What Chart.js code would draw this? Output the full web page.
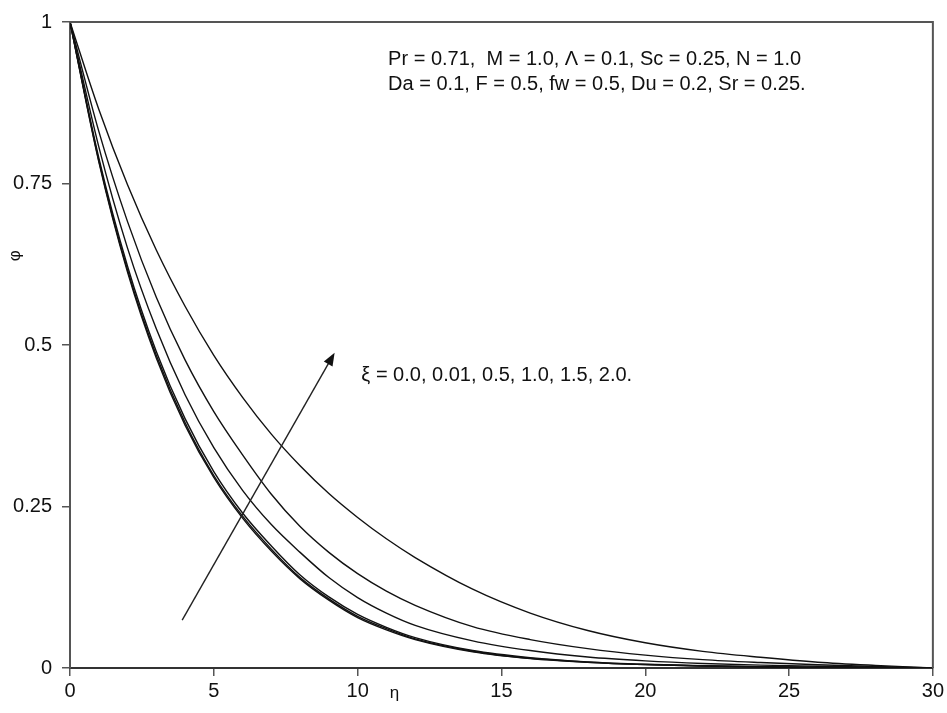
<!DOCTYPE html>
<html>
<head>
<meta charset="utf-8">
<script src="https://cdn.jsdelivr.net/npm/chart.js@4.4.0/dist/chart.umd.min.js"></script>
<style>
  html, body { margin: 0; padding: 0; background: #fff; }
  #wrap { width: 947px; height: 713px; }
</style>
</head>
<body>
<div id="wrap"><canvas id="phi-chart" width="947" height="713"></canvas></div>
<script>
// eta grid and concentration profiles
const eta = [0, 1, 2, 3, 4, 5, 6, 7, 8, 9, 10, 11, 12, 14, 16, 18, 20, 22, 24, 26, 28, 30];

const xiLabels = ['0.0', '0.01', '0.5', '1.0', '1.5', '2.0'];

const phi_xi0   = [1, 0.784, 0.613, 0.480, 0.376, 0.295, 0.232, 0.181, 0.138, 0.105, 0.078, 0.059, 0.044, 0.025, 0.0145, 0.0087, 0.0052, 0.0031, 0.0018, 0.001, 0.0005, 0];
const phi_xi001 = [1, 0.786, 0.616, 0.484, 0.380, 0.298, 0.235, 0.184, 0.140, 0.107, 0.080, 0.061, 0.045, 0.026, 0.015, 0.009, 0.0054, 0.0032, 0.0019, 0.001, 0.0005, 0];
const phi_xi05  = [1, 0.790, 0.622, 0.490, 0.386, 0.304, 0.240, 0.189, 0.144, 0.110, 0.083, 0.063, 0.047, 0.027, 0.016, 0.0095, 0.0057, 0.0034, 0.002, 0.0011, 0.0005, 0];
const phi_xi10  = [1, 0.807, 0.650, 0.525, 0.423, 0.341, 0.275, 0.222, 0.179, 0.140, 0.109, 0.085, 0.066, 0.042, 0.027, 0.017, 0.011, 0.007, 0.0045, 0.0028, 0.0012, 0];
const phi_xi15  = [1, 0.831, 0.691, 0.574, 0.477, 0.397, 0.330, 0.269, 0.219, 0.179, 0.146, 0.119, 0.097, 0.064, 0.044, 0.030, 0.020, 0.013, 0.0085, 0.005, 0.0023, 0];
const phi_xi20  = [1, 0.865, 0.748, 0.647, 0.560, 0.484, 0.419, 0.362, 0.313, 0.270, 0.233, 0.200, 0.171, 0.122, 0.085, 0.058, 0.039, 0.0257, 0.0166, 0.009, 0.004, 0];

const allPhi = [phi_xi0, phi_xi001, phi_xi05, phi_xi10, phi_xi15, phi_xi20];

const yTicks = [0, 0.25, 0.5, 0.75, 1];
const yTickLabels = ['0', '0.25', '0.5', '0.75', '1'];
const xTicks = [0, 5, 10, 15, 20, 25, 30];

const paramLine1 = 'Pr = 0.71,  M = 1.0, \u039B = 0.1, Sc = 0.25, N = 1.0';
const paramLine2 = 'Da = 0.1, F = 0.5, fw = 0.5, Du = 0.2, Sr = 0.25.';
const xiText = '\u03BE = 0.0, 0.01, 0.5, 1.0, 1.5, 2.0.';

// arrow in data units (tail, head)
const arrowFrom = [3.9, 0.074];
const arrowTo = [9.2, 0.488];

const FONT = '"Liberation Sans", Arial, sans-serif';

const datasets = allPhi.map(function (vals, i) {
  return {
    label: 'xi = ' + xiLabels[i],
    data: eta.map(function (e, j) { return { x: e, y: vals[j] }; }),
    borderColor: '#111',
    borderWidth: 1.4,
    pointRadius: 0,
    cubicInterpolationMode: 'monotone',
    fill: false
  };
});

const annotations = {
  id: 'annotations',
  afterDatasetsDraw(chart) {
    const ctx = chart.ctx;
    const xs = chart.scales.x, ys = chart.scales.y;
    const area = chart.chartArea;
    ctx.save();

    // plot box (top + right edges)
    ctx.strokeStyle = '#555';
    ctx.lineWidth = 2;
    ctx.beginPath();
    ctx.moveTo(area.left, area.top);
    ctx.lineTo(area.right, area.top);
    ctx.lineTo(area.right, area.bottom);
    ctx.stroke();

    // parameter text
    ctx.fillStyle = '#111';
    ctx.font = '20px ' + FONT;
    ctx.textBaseline = 'alphabetic';
    ctx.textAlign = 'left';
    ctx.fillText(paramLine1, xs.getPixelForValue(11.06), ys.getPixelForValue(0.934));
    ctx.fillText(paramLine2, xs.getPixelForValue(11.06), ys.getPixelForValue(0.894));

    // xi text
    ctx.fillText(xiText, xs.getPixelForValue(10.13), ys.getPixelForValue(0.444));

    // arrow
    const x1 = xs.getPixelForValue(arrowFrom[0]), y1 = ys.getPixelForValue(arrowFrom[1]);
    const x2 = xs.getPixelForValue(arrowTo[0]), y2 = ys.getPixelForValue(arrowTo[1]);
    const ang = Math.atan2(y2 - y1, x2 - x1);
    ctx.strokeStyle = '#222';
    ctx.lineWidth = 1.4;
    ctx.beginPath();
    ctx.moveTo(x1, y1);
    ctx.lineTo(x2 - 8 * Math.cos(ang), y2 - 8 * Math.sin(ang));
    ctx.stroke();
    ctx.fillStyle = '#111';
    ctx.beginPath();
    ctx.moveTo(x2, y2);
    ctx.lineTo(x2 - 13 * Math.cos(ang) + 5 * Math.sin(ang), y2 - 13 * Math.sin(ang) - 5 * Math.cos(ang));
    ctx.lineTo(x2 - 13 * Math.cos(ang) - 5 * Math.sin(ang), y2 - 13 * Math.sin(ang) + 5 * Math.cos(ang));
    ctx.closePath();
    ctx.fill();

    // axis titles
    ctx.fillStyle = '#111';
    ctx.font = '17px ' + FONT;
    ctx.textAlign = 'center';
    ctx.textBaseline = 'middle';
    ctx.fillText('\u03B7', xs.getPixelForValue(11.28), area.bottom + 25);

    ctx.translate(15, ys.getPixelForValue(0.638));
    ctx.rotate(-Math.PI / 2);
    ctx.font = '17px ' + FONT;
    ctx.fillText('\u03C6', 0, 0);
    ctx.restore();
  }
};

const chart = new Chart(document.getElementById('phi-chart'), {
  type: 'line',
  data: { datasets: datasets },
  options: {
    responsive: false,
    animation: false,
    layout: { padding: { left: 0, top: 20, right: 13, bottom: 0 } },
    plugins: {
      legend: { display: false },
      tooltip: { enabled: false }
    },
    scales: {
      x: {
        type: 'linear',
        min: 0,
        max: 30,
        afterBuildTicks: function (scale) { scale.ticks = xTicks.map(function (v) { return { value: v }; }); },
        afterFit: function (scale) { scale.height = 45; },
        grid: { drawOnChartArea: false, drawTicks: true, tickLength: 8, color: '#555', lineWidth: 1.5 },
        border: { color: '#333', width: 2 },
        ticks: {
          color: '#111', font: { family: FONT, size: 20 }, padding: 3, maxRotation: 0,
          callback: function (v) { return String(v); }
        }
      },
      y: {
        type: 'linear',
        min: 0,
        max: 1,
        afterBuildTicks: function (scale) { scale.ticks = yTicks.map(function (v) { return { value: v }; }); },
        afterFit: function (scale) { scale.width = 70; },
        grid: { drawOnChartArea: false, drawTicks: true, tickLength: 8, color: '#555', lineWidth: 1.5 },
        border: { color: '#555', width: 2 },
        ticks: {
          color: '#111', font: { family: FONT, size: 20 }, padding: 10,
          callback: function (v) {
            const i = yTicks.indexOf(v);
            return i >= 0 ? yTickLabels[i] : '';
          }
        }
      }
    }
  },
  plugins: [annotations]
});
</script>
</body>
</html>
